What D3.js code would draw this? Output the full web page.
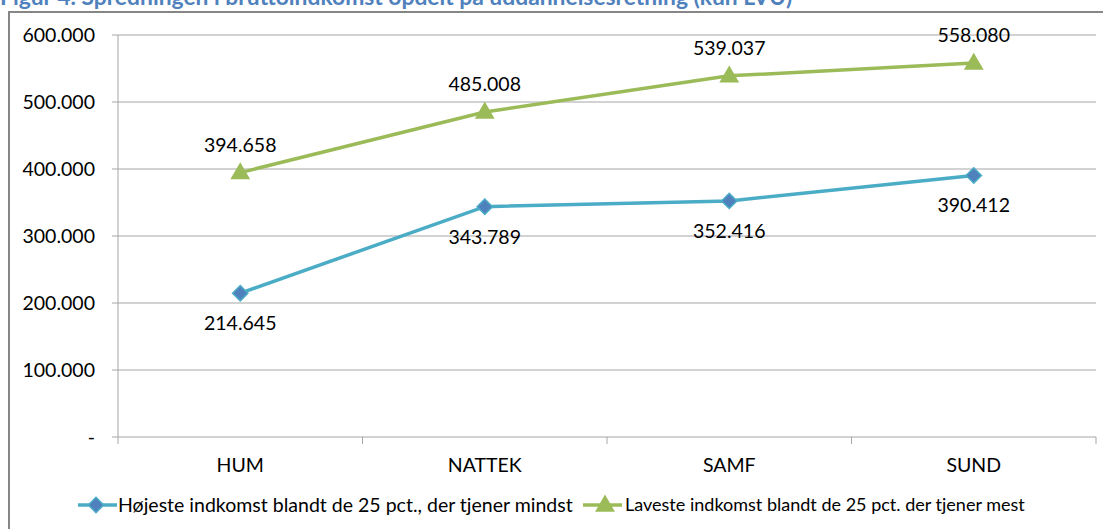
<!DOCTYPE html>
<html><head><meta charset="utf-8">
<script src="https://cdn.jsdelivr.net/npm/d3@7"></script>
<style>body{margin:0;background:#fff;} svg{display:block;}</style>
</head><body>
<svg id="c" width="1103" height="529"></svg>
<script>
const categories = ["HUM","NATTEK","SAMF","SUND"];
const lowSeries = [214645, 343789, 352416, 390412];
const highSeries = [394658, 485008, 539037, 558080];
const yTicks = [0,100000,200000,300000,400000,500000,600000];
const seriesNames = ["Højeste indkomst blandt de 25 pct., der tjener mindst","Laveste indkomst blandt de 25 pct. der tjener mest"];
const title = "Figur 4. Spredningen i bruttoindkomst opdelt på uddannelsesretning (kun LVU)";

(function(){
const svg = d3.select("#c");
const font = "Lato, 'Open Sans', sans-serif";
const fmt = v => v === 0 ? "-" : d3.format(",")(v).replace(/,/g, ".");

function fitSize(txt, target, weight){
  const p = svg.append("text").attr("font-family",font).attr("font-weight",weight||"normal").attr("font-size",20).text(txt);
  const s = 20 * target / p.node().getComputedTextLength();
  p.remove();
  return s;
}
const fs = fitSize(seriesNames[0], 455);
const fs2 = fitSize(seriesNames[1], 400);
const tfs = fitSize(title, 793, "bold");

svg.append("text").attr("x",0).attr("y",5).attr("font-family",font)
  .attr("font-weight","bold").attr("font-size",tfs).attr("fill","#4F81BD").text(title);

svg.append("rect").attr("x",9).attr("y",12).attr("width",1110).attr("height",530)
  .attr("fill","none").attr("stroke","#868686").attr("stroke-width",2);

const pl = 118, pr = 1096, pt = 35, pb = 437;
const x = d3.scaleBand().domain(categories).range([pl,pr]);
const y = d3.scaleLinear().domain([0,600000]).range([pb,pt]);

svg.append("g").selectAll("line").data(yTicks).join("line")
  .attr("x1",pl-6).attr("x2",pr).attr("y1",d=>y(d)).attr("y2",d=>y(d))
  .attr("stroke","#a6a6a6").attr("stroke-width",1);
svg.append("line").attr("x1",pl).attr("x2",pl).attr("y1",pt).attr("y2",pb)
  .attr("stroke","#a6a6a6");
svg.append("g").selectAll("text").data(yTicks).join("text")
  .attr("x",95).attr("y",d=>y(d)).attr("dy","0.35em").attr("text-anchor","end")
  .attr("font-family",font).attr("font-size",fs).attr("fill","#000").text(fmt);
const bounds = categories.map(c=>x(c)).concat([pr]);
svg.append("g").selectAll("line").data(bounds).join("line")
  .attr("x1",d=>d).attr("x2",d=>d).attr("y1",pb).attr("y2",pb+7)
  .attr("stroke","#a6a6a6");
svg.append("g").selectAll("text").data(categories).join("text")
  .attr("x",d=>x(d)+x.bandwidth()/2).attr("y",472).attr("text-anchor","middle")
  .attr("font-family",font).attr("font-size",fs).attr("fill","#000").text(d=>d);

const cx = (d,i) => x(categories[i]) + x.bandwidth()/2;
const line = d3.line().x((d,i)=>cx(d,i)).y(d=>y(d));

svg.append("path").datum(lowSeries).attr("d",line).attr("fill","none")
  .attr("stroke","#4BACC6").attr("stroke-width",3.5);
svg.append("path").datum(highSeries).attr("d",line).attr("fill","none")
  .attr("stroke","#9BBB59").attr("stroke-width",3.5);

const diamond = d3.symbol().type(d3.symbolDiamond2).size(150);
const tri = d3.symbol().type(d3.symbolTriangle).size(170);

svg.append("g").selectAll("path").data(lowSeries).join("path")
  .attr("d",diamond).attr("transform",(d,i)=>`translate(${cx(d,i)},${y(d)})`)
  .attr("fill","#4F81BD").attr("stroke","#4BACC6").attr("stroke-width",1.5);
svg.append("g").selectAll("path").data(highSeries).join("path")
  .attr("d",tri).attr("transform",(d,i)=>`translate(${cx(d,i)},${y(d)+1})`)
  .attr("fill","#9BBB59");

svg.append("g").selectAll("text").data(lowSeries).join("text")
  .attr("x",(d,i)=>cx(d,i)).attr("y",d=>y(d)+37).attr("text-anchor","middle")
  .attr("font-family",font).attr("font-size",fs).attr("fill","#000").text(fmt);
svg.append("g").selectAll("text").data(highSeries).join("text")
  .attr("x",(d,i)=>cx(d,i)).attr("y",d=>y(d)-21).attr("text-anchor","middle")
  .attr("font-family",font).attr("font-size",fs).attr("fill","#000").text(fmt);

const lg = svg.append("g");
lg.append("line").attr("x1",78).attr("x2",117).attr("y1",505).attr("y2",505).attr("stroke","#4BACC6").attr("stroke-width",3.5);
lg.append("path").attr("d",diamond).attr("transform","translate(96,505)").attr("fill","#4F81BD").attr("stroke","#4BACC6").attr("stroke-width",1.5);
lg.append("text").attr("x",118).attr("y",505).attr("dy","0.35em").attr("font-family",font).attr("font-size",fs).text(seriesNames[0]);
lg.append("line").attr("x1",583).attr("x2",622).attr("y1",505).attr("y2",505).attr("stroke","#9BBB59").attr("stroke-width",3.5);
lg.append("path").attr("d",tri).attr("transform","translate(605,506)").attr("fill","#9BBB59");
lg.append("text").attr("x",625).attr("y",505).attr("dy","0.35em").attr("font-family",font).attr("font-size",fs2).text(seriesNames[1]);
})();
</script>
</body></html>
